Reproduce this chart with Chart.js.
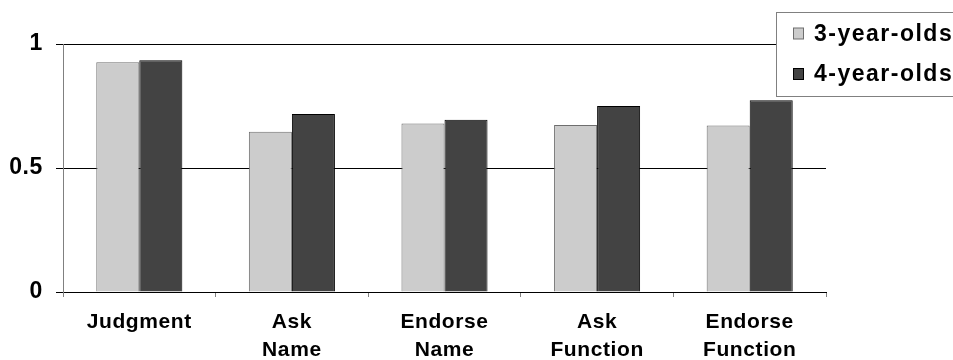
<!DOCTYPE html>
<html>
<head>
<meta charset="utf-8">
<script src="https://cdn.jsdelivr.net/npm/chart.js@4.4.1/dist/chart.umd.min.js"></script>
<style>
  html, body { margin: 0; padding: 0; background: #ffffff; }
  #wrap { width: 953px; height: 360px; }
</style>
</head>
<body>
<div id="wrap"><canvas id="chart" width="953" height="360"></canvas></div>
<script>
// Proportion of trials per condition, by age group
const categories = [
  ['Judgment'],
  ['Ask', 'Name'],
  ['Endorse', 'Name'],
  ['Ask', 'Function'],
  ['Endorse', 'Function']
];
const seriesNames = ['3-year-olds', '4-year-olds'];
const threeYearOlds = [0.926, 0.646, 0.679, 0.673, 0.671];
const fourYearOlds = [0.934, 0.718, 0.695, 0.750, 0.773];
const yTicks = [0, 0.5, 1];

const FONT = "'Liberation Sans', Arial, Helvetica, sans-serif";

// Boxed legend in the upper-right corner, overlapping the top gridline
const boxedLegend = {
  id: 'boxedLegend',
  afterDraw(chart) {
    const ctx = chart.ctx;
    ctx.save();
    ctx.letterSpacing = '1.5px';
    const left = 776.5, top = 12.5, right = 960, bottom = 96.5;
    ctx.fillStyle = '#ffffff';
    ctx.fillRect(left, top, right - left, bottom - top);
    ctx.strokeStyle = '#808080';
    ctx.lineWidth = 1;
    ctx.strokeRect(left, top, right - left, bottom - top);
    const rows = [33.5, 74];
    chart.data.datasets.forEach((ds, i) => {
      const cy = rows[i];
      ctx.fillStyle = ds.backgroundColor;
      ctx.fillRect(793.5, cy - 5.5, 10, 11);
      ctx.strokeStyle = ds.borderColor;
      ctx.strokeRect(793.5, cy - 5.5, 10, 11);
      ctx.fillStyle = '#000000';
      ctx.font = 'bold 23px ' + FONT;
      ctx.textBaseline = 'middle';
      ctx.textAlign = 'left';
      ctx.fillText(ds.label, 814, cy + 1);
    });
    ctx.restore();
  }
};

// Slightly widened lettering on the axis labels
const spacedText = {
  id: 'spacedText',
  beforeDraw(chart) { chart.ctx.letterSpacing = '0.6px'; },
  afterDraw(chart) { chart.ctx.letterSpacing = '0px'; }
};

new Chart(document.getElementById('chart'), {
  type: 'bar',
  data: {
    labels: categories,
    datasets: [
      {
        label: seriesNames[0],
        data: threeYearOlds,
        backgroundColor: '#cccccc',
        borderColor: '#6e6e6e',
        borderWidth: 1,
        borderSkipped: 'bottom'
      },
      {
        label: seriesNames[1],
        data: fourYearOlds,
        backgroundColor: '#434343',
        borderColor: '#000000',
        borderWidth: 1,
        borderSkipped: 'bottom'
      }
    ]
  },
  options: {
    responsive: false,
    animation: false,
    devicePixelRatio: 1,
    layout: { padding: { top: 44, right: 127, left: 0, bottom: 0 } },
    datasets: { bar: { categoryPercentage: 0.564, barPercentage: 1.0 } },
    plugins: {
      legend: { display: false },
      tooltip: { enabled: false }
    },
    scales: {
      x: {
        offset: true,
        grid: {
          offset: true,
          drawOnChartArea: false,
          drawTicks: true,
          tickLength: 5,
          tickColor: '#808080'
        },
        border: { display: true, color: '#000000', width: 1 },
        ticks: {
          color: '#000000',
          font: { family: FONT, size: 21, weight: 'bold', lineHeight: 1.33 },
          padding: 11,
          maxRotation: 0,
          autoSkip: false
        },
        afterFit(scale) { scale.height = 68; }
      },
      y: {
        min: 0,
        max: 1,
        afterBuildTicks(scale) { scale.ticks = yTicks.map(v => ({ value: v })); },
        grid: {
          color: '#000000',
          lineWidth: 1,
          drawTicks: true,
          tickLength: 7,
          tickColor: '#000000'
        },
        border: { display: true, color: '#808080', width: 1 },
        ticks: {
          color: '#000000',
          font: { family: FONT, size: 23, weight: 'bold' },
          padding: 13,
          callback: v => String(v)
        },
        afterFit(scale) { scale.width = 63; }
      }
    }
  },
  plugins: [spacedText, boxedLegend]
});
</script>
</body>
</html>
